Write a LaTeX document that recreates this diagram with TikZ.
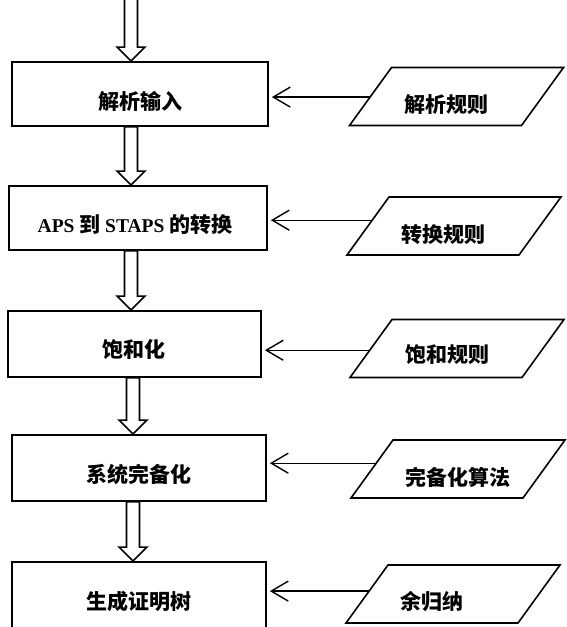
\documentclass[tikz,border=0pt]{standalone}
\usepackage{fontspec}
\setmainfont{Liberation Serif}
\newfontfamily\cjk{Noto Sans CJK SC}
\usetikzlibrary{arrows.meta,calc}
\newcommand\shft[3]{\raisebox{-#2}[\height][\depth]{\rlap{\hspace*{#1}#3}\phantom{#3}}}
\newcommand\lat[1]{{\rmfamily\bfseries\fontsize{19.5}{23}\selectfont #1}}
\newcommand\blockarrow[3]{%
  \path[fatarr] let \p1=(#2), \p2=(#3) in
   (#1pt-6.5pt,\y1) -- (#1pt-6.5pt,\y2+14pt) -- (#1pt-14pt,\y2+14pt) -- (#1pt,\y2)
   -- (#1pt+14pt,\y2+14pt) -- (#1pt+6.5pt,\y2+14pt) -- (#1pt+6.5pt,\y1) -- cycle;}
% parallelogram: name, centre x, centre y
\newcommand\para[3]{%
  \coordinate (#1-bl) at (#2-107,#3+29);
  \coordinate (#1-tl) at (#2-65,#3-29);
  \coordinate (#1-tr) at (#2+107,#3-29);
  \coordinate (#1-br) at (#2+65,#3+29);
  \draw[paraline] (#1-bl) -- (#1-tl) -- (#1-tr) -- (#1-br) -- cycle;}
\begin{document}
\begin{tikzpicture}[x=1pt,y=-1pt,
  lbl/.style={font=\cjk\bfseries\fontsize{21}{25}\selectfont,inner sep=0pt},
  stepbox/.style={draw,line width=1.8pt,inner sep=0pt,lbl},
  paraline/.style={line width=1.6pt,line join=miter},
  conn/.style={line width=1.4pt,shorten >=3pt,-{Straight Barb[length=17pt,width=20pt,line width=1.4pt]}},
  fatarr/.style={draw,line width=1.6pt,fill=white,line join=miter}]
\useasboundingbox[fill=white] (0,0) rectangle (566,627);

% process boxes
\node[stepbox,minimum width=256pt,minimum height=64pt] (b1) at (140,94) {\shft{0pt}{7pt}{解析输入}};
\node[stepbox,minimum width=258pt,minimum height=64pt] (b2) at (138,218) {\shft{-3pt}{7pt}{\lat{APS} 到 \lat{STAPS} 的转换}};
\node[stepbox,minimum width=253pt,minimum height=66pt] (b3) at (134.5,344) {\shft{-1pt}{5pt}{饱和化}};
\node[stepbox,minimum width=254pt,minimum height=66pt] (b4) at (139,468) {\shft{0pt}{6pt}{系统完备化}};
\node[stepbox,minimum width=254pt,minimum height=67pt] (b5) at (139,595.5) {\shft{0pt}{5.5pt}{生成证明树}};

% data parallelograms
\para{q1}{456.5}{96.5}
\para{q2}{454}{226}
\para{q3}{457}{348.5}
\para{q4}{458}{469}
\para{q5}{453}{594}
\node[lbl] (p1) at (446.5,104.5) {解析规则};
\node[lbl] (p2) at (443,235) {转换规则};
\node[lbl] (p3) at (447,355) {饱和规则};
\node[lbl] (p4) at (457.5,477) {完备化算法};
\node[lbl] (p5) at (432,602) {余归纳};

% block arrows
\coordinate (start) at (131,-3);
\blockarrow{131}{start}{b1.north}
\blockarrow{131}{b1.south}{b2.north}
\blockarrow{131}{b2.south}{b3.north}
\blockarrow{133}{b3.south}{b4.north}
\blockarrow{133}{b4.south}{b5.north}

% connectors
\coordinate (c1) at ($(q1-tl)!0.51!(q1-bl)$);
\coordinate (c2) at ($(q2-tl)!0.40!(q2-bl)$);
\coordinate (c3) at ($(q3-tl)!0.53!(q3-bl)$);
\coordinate (c4) at ($(q4-tl)!0.40!(q4-bl)$);
\coordinate (c5) at ($(q5-tl)!0.45!(q5-bl)$);
\draw[conn] (c1) -- (b1.east |- c1);
\draw[conn] (c2) -- (b2.east |- c2);
\draw[conn] (c3) -- (b3.east |- c3);
\draw[conn] (c4) -- (b4.east |- c4);
\draw[conn] (c5) -- (b5.east |- c5);
\end{tikzpicture}
\end{document}
